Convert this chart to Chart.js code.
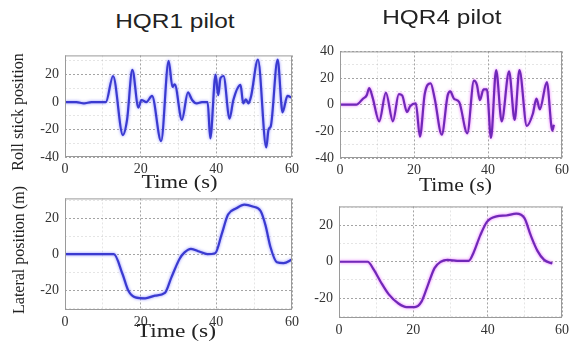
<!DOCTYPE html>
<html>
<head>
<meta charset="utf-8">
<script src="https://cdn.jsdelivr.net/npm/chart.js@4.4.0/dist/chart.umd.min.js"></script>
<style>
  body { margin: 0; background: #fff; }
  #wrap { position: relative; width: 578px; height: 345px; overflow: hidden; background: #fff; }
  canvas { position: absolute; }
  .lbl { position: absolute; white-space: nowrap; color: #222; transform-origin: center center; }
  .title { font-family: "Liberation Sans", Arial, sans-serif; font-size: 20px; }
  .xt { font-family: "Liberation Serif", "Times New Roman", serif; font-size: 18px; }
  .yt { font-family: "Liberation Serif", "Times New Roman", serif; font-size: 16px; }
</style>
</head>
<body>
<div id="wrap">
  <canvas id="tl"></canvas>
  <canvas id="tr"></canvas>
  <canvas id="bl"></canvas>
  <canvas id="br"></canvas>
  <div class="lbl title" id="t1">HQR1 pilot</div>
  <div class="lbl title" id="t2">HQR4 pilot</div>
  <div class="lbl xt" id="x1">Time (s)</div>
  <div class="lbl xt" id="x2">Time (s)</div>
  <div class="lbl xt" id="x3">Time (s)</div>
  <div class="lbl yt" id="y1">Roll stick position</div>
  <div class="lbl yt" id="y2">Lateral position (m)</div>
</div>
<script>
// --- data ---
const timeTicks = [0, 10, 20, 30, 40, 50, 60];
const rollTicksL = [-40, -30, -20, -10, 0, 10, 20, 30];
const rollTicksR = [-40, -30, -20, -10, 0, 10, 20, 30, 40];
const latTicks = [-30, -20, -10, 0, 10, 20, 30];

// HQR1 roll stick
const hqr1RollT = [0, 3, 5, 7, 9, 10.8, 12.7, 15.3, 16.4, 17.8, 19.4, 20.2, 21.5, 23, 25.4, 27.4, 28.4, 29, 30.9, 32.5, 33.6, 34.8, 36.2, 37.7, 38.4, 39.8, 40.5, 41.1, 41.9, 43.5, 44.5, 46.4, 47.1, 47.8, 48.5, 49.2, 51, 53.2, 53.8, 54.4, 56.2, 57.5, 58.8, 60];
const hqr1RollV = [0, 0, -1, 0, 0, 0, 19, -24, -13, 23.5, -4, 1.5, 0, 4.5, -28.5, 30, 11, 13, -13, 7, 1.5, -1, 0, 0, -26.5, 20, 5, 17.5, 19, -12, 1.5, 12.5, -1, 2, -1, 4.5, 31, -33, -20, -17.5, 31, -7.5, 4.5, 3];

// HQR4 roll stick
const hqr4RollT = [0, 4.4, 6.2, 7.2, 7.9, 8.8, 10.6, 12.4, 14.3, 15.9, 16.8, 18.1, 19, 20.5, 21.6, 22.9, 24.5, 25.6, 27.5, 29.1, 29.8, 30.8, 32.2, 34.4, 36.2, 37, 37.8, 38.8, 39.7, 40.8, 42.2, 43.7, 45.7, 47.2, 48.5, 50.5, 52.1, 53.1, 54, 55.9, 57.4, 57.8];
const hqr4RollV = [0, 0, 4.5, 7, 12.5, 5.5, -12.5, 9, -12.5, 8, 7, -5.5, -1, 1, -24, 8, 16, 4.5, -22.5, 7, 10, 4.5, 2, -21.5, 18, 15, 3.5, 11.5, 11.5, -25, 26, -12.5, 25, -11.5, 26, -16, -7, 4.5, -3.5, 17, -19.5, -15];

// HQR1 lateral position
const hqr1LatT = [0, 6, 12.9, 15.2, 16.8, 18.6, 21.2, 23.8, 26.4, 28.1, 30.3, 31.6, 33.3, 35.5, 37.6, 39.7, 41.4, 43.1, 45.3, 47.4, 49.6, 51.7, 53, 54.3, 56, 57.8, 60];
const hqr1LatV = [0, 0, 0, -11, -20.5, -24, -24.5, -23, -21.5, -13, -2.5, 1, 3, 1.5, 0, 0.5, 11, 22, 25.5, 27.5, 26.5, 24, 16, 4, -4.5, -5, -3];

// HQR4 lateral position
const hqr4LatT = [0, 4, 7.7, 9.4, 11.2, 13.4, 16, 18.2, 20.4, 22.2, 23.9, 25.7, 27.4, 29.2, 31.8, 34.9, 36.2, 38, 39.8, 42.4, 45, 47.7, 49.9, 51.6, 53.4, 55.2, 57.4];
const hqr4LatV = [0, 0, 0, -4.5, -11, -18, -23, -25, -25, -22, -13, -3.5, 0, 1, 0.5, 0.5, 5, 14.5, 22, 25, 25.5, 26.5, 24, 14.5, 6, 1, -1];

const pts = (t, v) => t.map((x, i) => ({ x, y: v[i] }));

// box around the plot area, like matlab "box on"
const boxPlugin = {
  id: 'box',
  afterDraw(chart) {
    const a = chart.chartArea;
    const ctx = chart.ctx;
    ctx.save();
    ctx.strokeStyle = '#9a9a9a';
    ctx.lineWidth = 1;
    ctx.strokeRect(a.left + 0.5, a.top + 0.5, a.right - a.left - 1, a.bottom - a.top - 1);
    ctx.restore();
  }
};

// soft halo round the trace
const glowPlugin = {
  id: 'glow',
  beforeDatasetDraw(chart, args, opts) {
    chart.ctx.save();
    chart.ctx.shadowColor = opts.color || 'transparent';
    chart.ctx.shadowBlur = 3;
  },
  afterDatasetDraw(chart) {
    chart.ctx.restore();
  }
};

const PAD_L = 40, PAD_T = 6, PAD_R = 6, PAD_B = 24;

function makePanel(id, rect, t, v, yTicks, yMin, yMax, color, glow) {
  const c = document.getElementById(id);
  const w = rect.r - rect.l + PAD_L + PAD_R;
  const h = rect.b - rect.t + PAD_T + PAD_B;
  c.style.left = (rect.l - PAD_L) + 'px';
  c.style.top = (rect.t - PAD_T) + 'px';
  c.width = w; c.height = h;
  c.style.width = w + 'px'; c.style.height = h + 'px';

  const tickFont = { family: '"Liberation Serif", "Times New Roman", serif', size: 14 };
  const gridColor = (ctx) => {
    const val = ctx.tick ? ctx.tick.value : 0;
    return val % 20 === 0 ? 'rgba(90,90,90,0.55)' : 'rgba(150,150,150,0.25)';
  };

  new Chart(c, {
    type: 'line',
    data: {
      datasets: [{
        data: pts(t, v),
        borderColor: color,
        borderWidth: 2.2,
        pointRadius: 0,
        fill: false,
        cubicInterpolationMode: 'monotone',
      }]
    },
    options: {
      responsive: false,
      animation: false,
      layout: { padding: { left: 0, top: PAD_T, right: PAD_R, bottom: 0 } },
      plugins: {
        legend: { display: false },
        tooltip: { enabled: false },
        glow: { color: glow },
      },
      scales: {
        x: {
          type: 'linear',
          min: 0, max: 60,
          afterBuildTicks: (axis) => { axis.ticks = timeTicks.map((value) => ({ value })); },
          afterFit: (axis) => { axis.height = PAD_B; },
          ticks: {
            color: '#333', font: tickFont, padding: 4, maxRotation: 0, autoSkip: false,
            callback: (val) => (val % 20 === 0 ? val : ''),
          },
          grid: { color: gridColor, drawTicks: false, lineWidth: 1 },
          border: { display: false, dash: [2, 2] },
        },
        y: {
          type: 'linear',
          min: yMin, max: yMax,
          afterBuildTicks: (axis) => { axis.ticks = yTicks.map((value) => ({ value })); },
          afterFit: (axis) => { axis.width = PAD_L; },
          ticks: {
            color: '#333', font: tickFont, padding: 6, autoSkip: false,
            callback: (val) => (val % 20 === 0 ? val : ''),
          },
          grid: { color: gridColor, drawTicks: false, lineWidth: 1 },
          border: { display: false, dash: [2, 2] },
        },
      },
    },
    plugins: [boxPlugin, glowPlugin],
  });
}

makePanel('tl', { l: 65, t: 47, r: 297, b: 157 }, hqr1RollT, hqr1RollV, rollTicksL, -40, 34, '#3a3ad0', 'rgba(120,120,255,0.9)');
makePanel('tr', { l: 340, t: 43, r: 567, b: 158 }, hqr4RollT, hqr4RollV, rollTicksR, -40, 40, '#7028b8', 'rgba(230,90,255,0.9)');
makePanel('bl', { l: 65, t: 190, r: 297, b: 310 }, hqr1LatT, hqr1LatV, latTicks, -31, 31, '#3a3ad0', 'rgba(120,120,255,0.9)');
makePanel('br', { l: 339, t: 198, r: 567, b: 318 }, hqr4LatT, hqr4LatV, latTicks, -31, 30.5, '#7028b8', 'rgba(230,90,255,0.9)');

// place text labels by their centre
function place(id, cx, cy, sx, rot) {
  const el = document.getElementById(id);
  const w = el.offsetWidth, h = el.offsetHeight;
  el.style.left = (cx - w / 2) + 'px';
  el.style.top = (cy - h / 2) + 'px';
  el.style.transform = (rot ? 'rotate(' + rot + 'deg) ' : '') + 'scaleX(' + sx + ')';
}
place('t1', 175, 21, 1.22, 0);
place('t2', 442, 17, 1.22, 0);
place('x1', 179, 182, 1.25, 0);
place('x2', 455, 185, 1.2, 0);
place('x3', 176, 331, 1.3, 0);
place('y1', 17, 112, 1.0, -90);
place('y2', 19, 250, 1.0, -90);
</script>
</body>
</html>
